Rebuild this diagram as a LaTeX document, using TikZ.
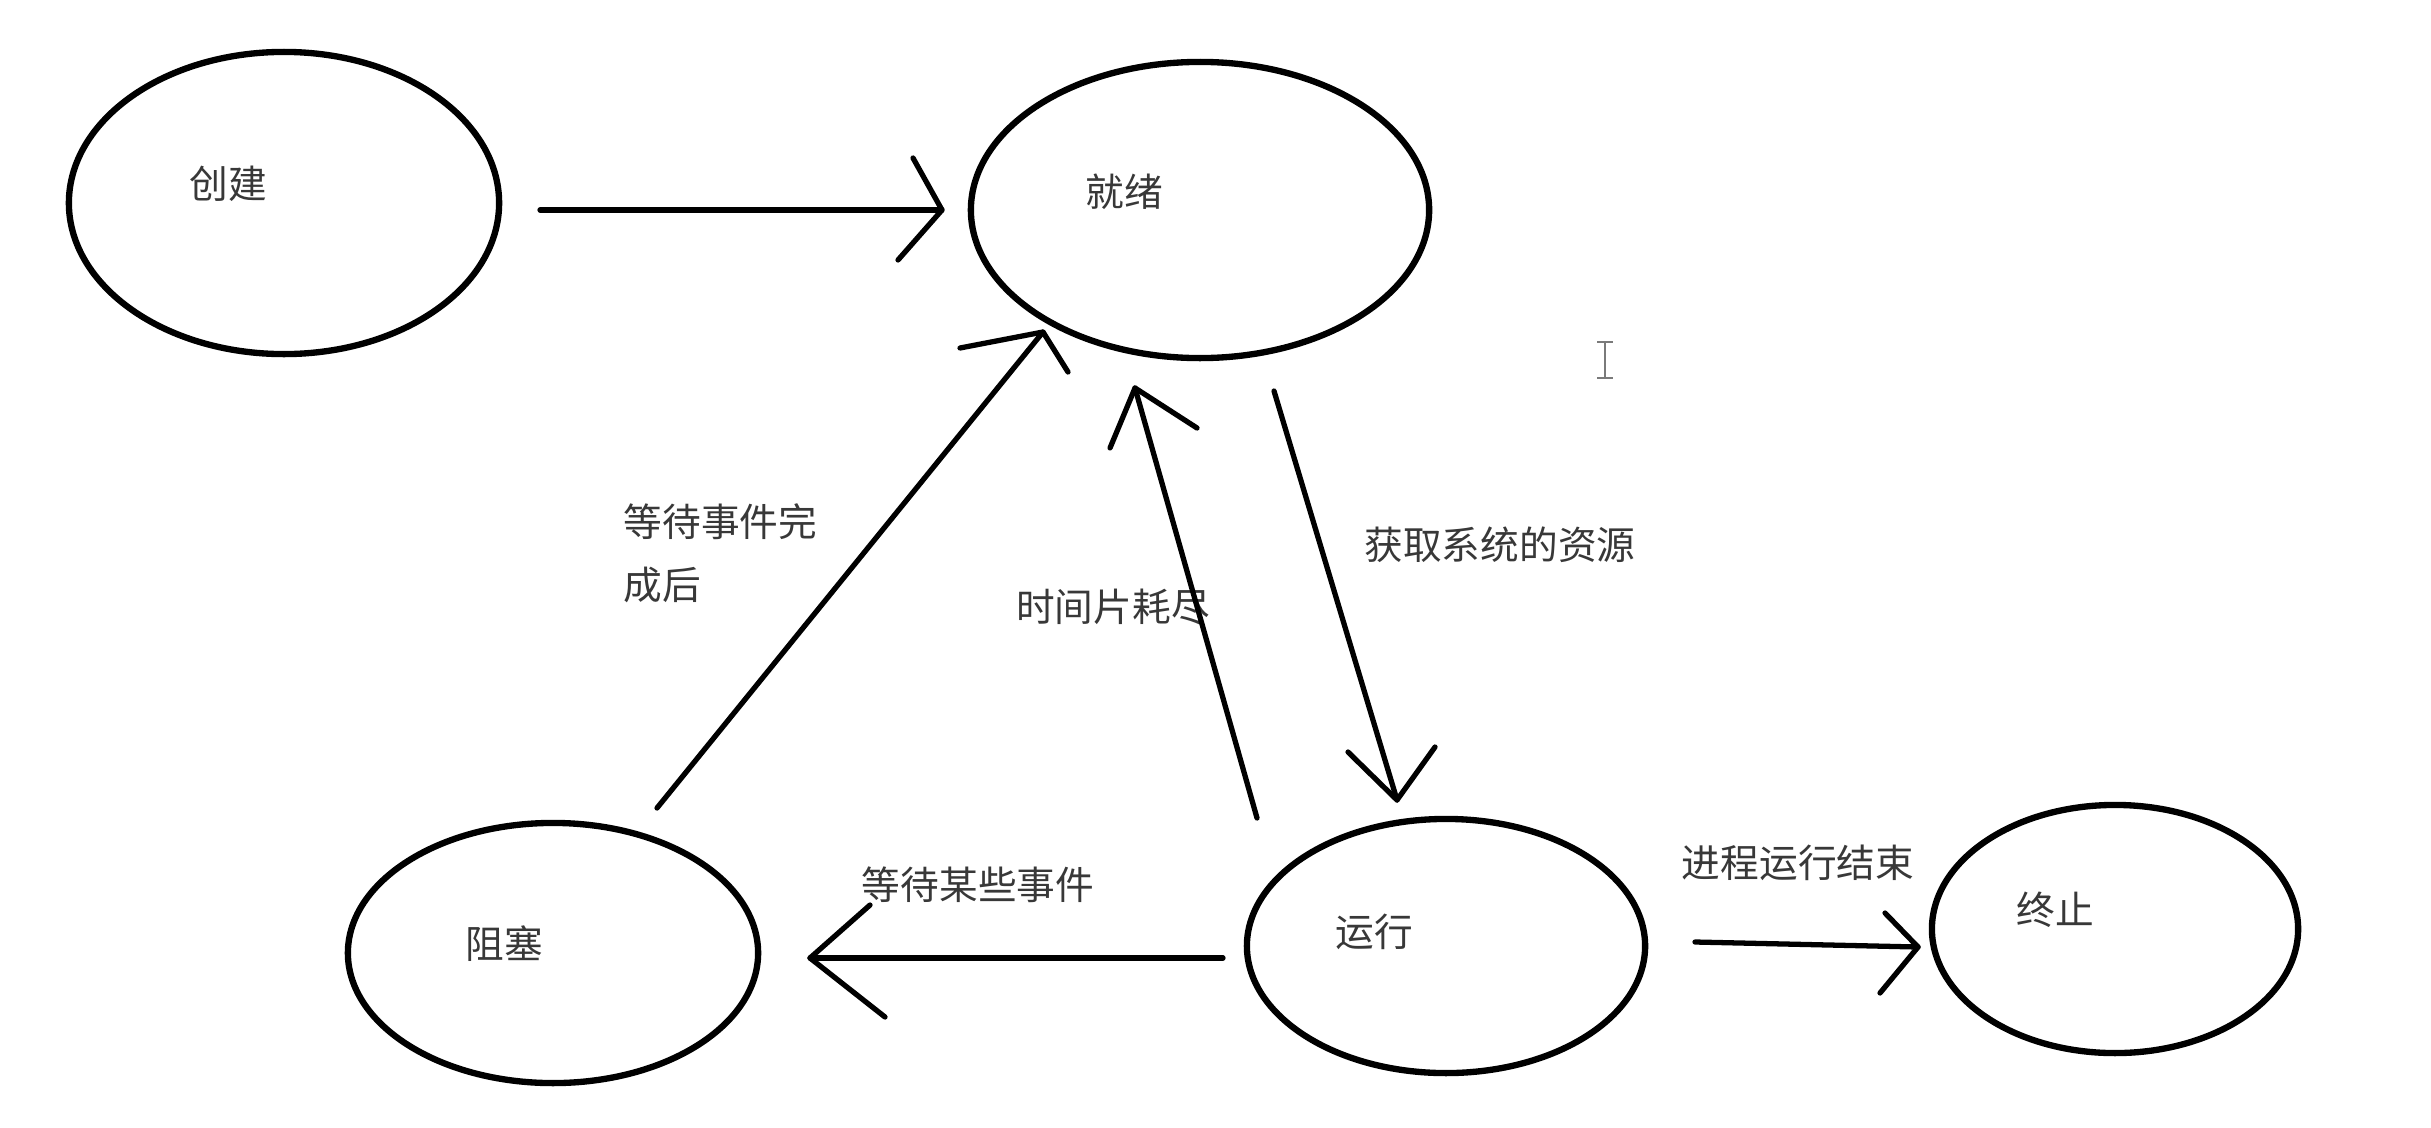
\documentclass[tikz,border=0pt]{standalone}
\usepackage{fontspec}
\newfontfamily\cjk{Noto Sans CJK SC}
\usetikzlibrary{shapes.geometric}
\definecolor{txt}{HTML}{383838}
\definecolor{cur}{HTML}{7A7A7A}
\begin{document}
\begin{tikzpicture}[x=0.01cm,y=-0.01cm,
  state/.style={draw, ellipse, line width=1.8pt, inner sep=0pt, outer sep=0pt},
  lbl/.style={font=\cjk\fontsize{11}{13}\selectfont, text=txt, inner sep=0pt},
  conn/.style={line width=1.5pt, line cap=round, line join=round}]
\useasboundingbox[fill=white] (0,0) rectangle (2431,1127);
% states
\node[state, minimum width=4.30cm, minimum height=3.02cm] (cj) at (284,203) {};
\node[state, minimum width=4.58cm, minimum height=2.96cm] (jx) at (1200,210) {};
\node[state, minimum width=4.10cm, minimum height=2.60cm] (zs) at (553,953) {};
\node[state, minimum width=3.98cm, minimum height=2.54cm] (yx) at (1446,946) {};
\node[state, minimum width=3.66cm, minimum height=2.48cm] (zz) at (2115,929) {};
\node[lbl] (cjt) at (228,184) {创建};
\node[lbl] (jxt) at (1124,192) {就绪};
\node[lbl] (zst) at (504,944) {阻塞};
\node[lbl] (yxt) at (1374,932) {运行};
\node[lbl] (zzt) at (2055,910) {终止};
% edge labels
\node[lbl, anchor=west] (l2a) at (623,522) {等待事件完};
\node[lbl, anchor=west] (l2b) at (623,585) {成后};
\node[lbl] (l3) at (1113,607) {时间片耗尽};
\node[lbl] (l4) at (1500,545) {获取系统的资源};
\node[lbl] (l5) at (978,885) {等待某些事件};
\node[lbl] (l6) at (1798,863) {进程运行结束};
% arrow coordinates
\coordinate (a1s) at (540,210); \coordinate (a1t) at (942,210);
\coordinate (a1u) at (913,158); \coordinate (a1d) at (898,260);
\coordinate (a2s) at (657,808); \coordinate (a2t) at (1043,332);
\coordinate (a2u) at (960,348); \coordinate (a2d) at (1068,372);
\coordinate (a3s) at (1257,818); \coordinate (a3t) at (1135,388);
\coordinate (a3u) at (1110,448); \coordinate (a3d) at (1197,428);
\coordinate (a4s) at (1274,391); \coordinate (a4t) at (1397,800);
\coordinate (a4u) at (1348,752); \coordinate (a4d) at (1435,747);
\coordinate (a5s) at (1223,958); \coordinate (a5t) at (810,958);
\coordinate (a5u) at (870,905); \coordinate (a5d) at (885,1017);
\coordinate (a6s) at (1695,942); \coordinate (a6t) at (1918,947);
\coordinate (a6u) at (1885,913); \coordinate (a6d) at (1880,993);
% connectors
\draw[conn] (a1s) -- (a1t); \draw[conn] (a1u) -- (a1t) -- (a1d);
\draw[conn] (a2s) -- (a2t); \draw[conn] (a2u) -- (a2t) -- (a2d);
\draw[conn] (a3s) -- (a3t); \draw[conn] (a3u) -- (a3t) -- (a3d);
\draw[conn] (a4s) -- (a4t); \draw[conn] (a4u) -- (a4t) -- (a4d);
\draw[conn] (a5s) -- (a5t); \draw[conn] (a5u) -- (a5t) -- (a5d);
\draw[conn] (a6s) -- (a6t); \draw[conn] (a6u) -- (a6t) -- (a6d);
% text cursor
\draw[cur, line width=0.6pt] (1605,342) -- (1605,378)
  (1597,342) -- (1613,342) (1597,378) -- (1613,378);
\end{tikzpicture}
\end{document}
